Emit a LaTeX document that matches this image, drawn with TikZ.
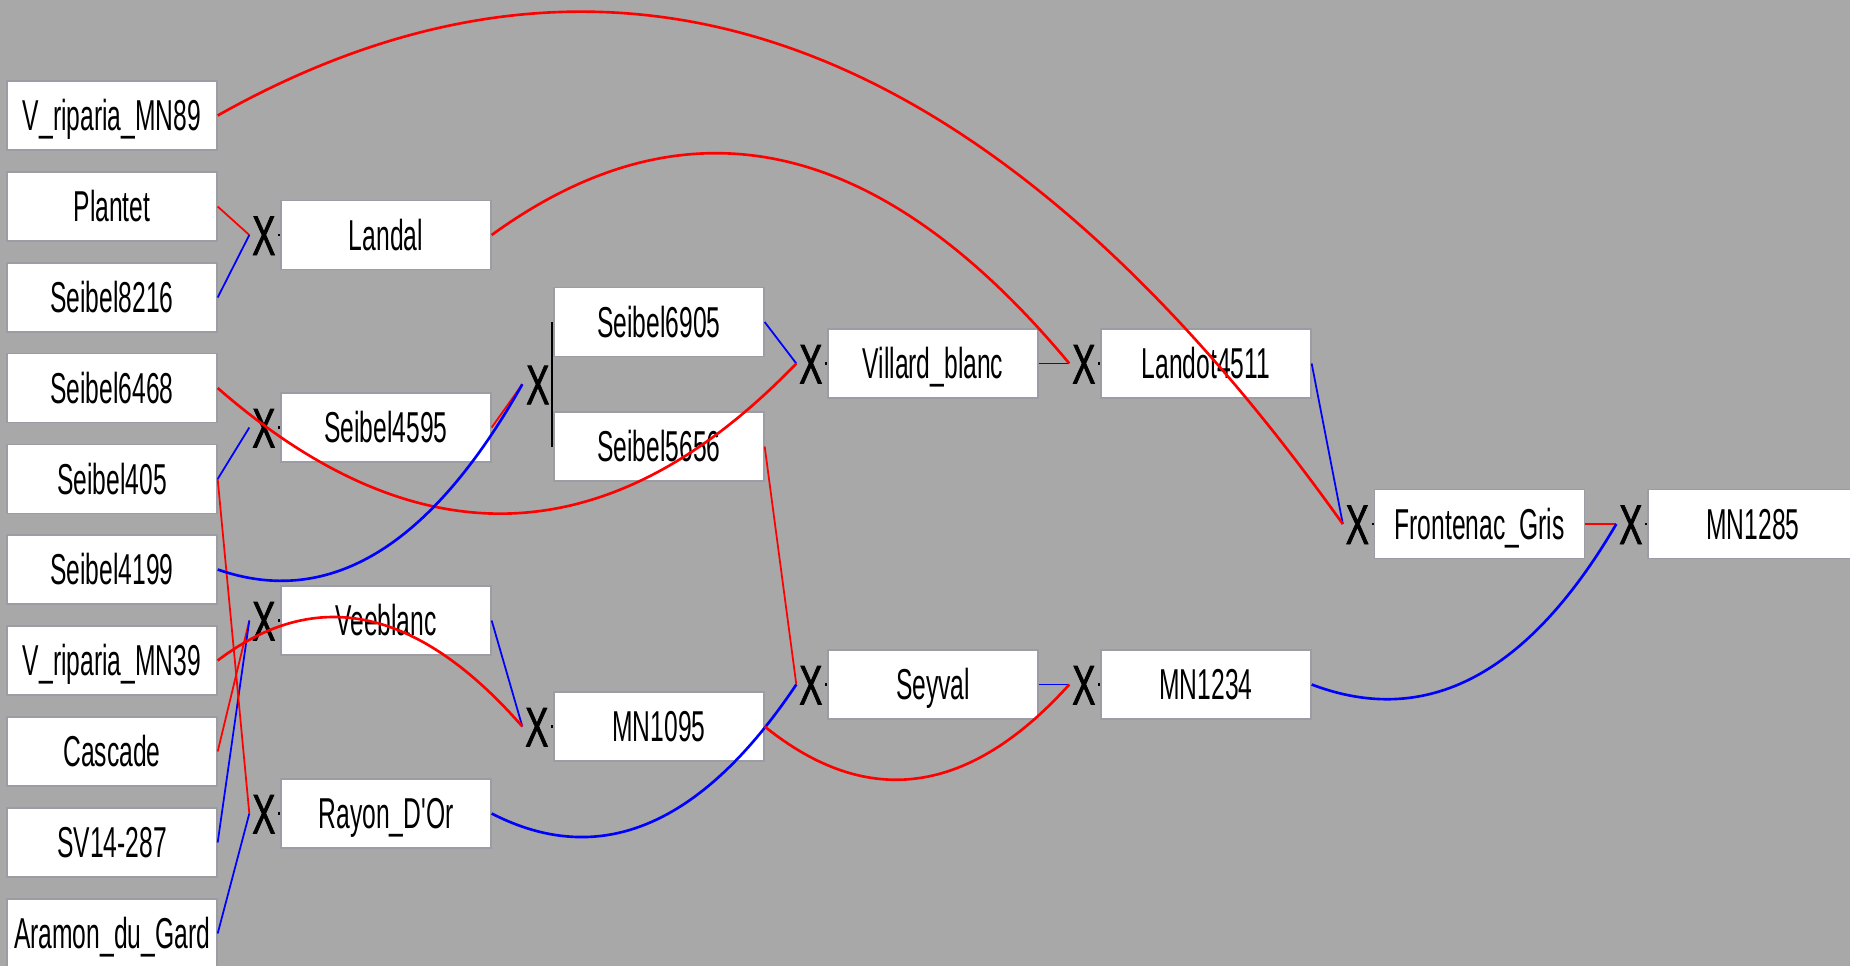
\documentclass[tikz,border=0pt]{standalone}
\usepackage{fontspec}
\newfontfamily\lblfont[FakeStretch=0.57,Ligatures=TeXOff]{Liberation Sans}
\newfontfamily\xfont[FakeStretch=0.62,FakeBold=1.2]{Liberation Sans}
\usetikzlibrary{calc}
\definecolor{bg}{RGB}{168,168,168}
\definecolor{edge}{RGB}{156,156,164}
\definecolor{pa}{RGB}{255,0,0}
\definecolor{ma}{RGB}{0,0,255}
\tikzset{
  plant/.style={draw=edge, line width=0.35pt, fill=white, minimum width=2.1cm,
    minimum height=0.69cm, inner sep=0pt,
    font=\lblfont\fontsize{12.3}{14}\selectfont, text height=8.8pt, text depth=0pt},
  crossmark/.style={inner sep=0pt, font=\xfont\fontsize{15.9}{18}\selectfont,
    text height=11.4pt, text depth=0pt},
  sire/.style={draw=pa, line width=0.5pt},
  dam/.style={draw=ma, line width=0.5pt},
  arcline/.style={line width=0.75pt},
  tick/.style={draw=black, line width=0.6pt},
  sibline/.style={draw=black, line width=0.55pt}
}
% quadratic connector: start, control point, end
\newcommand\qarc[4]{\draw[#1] (#2) .. controls ($(#2)!0.6667!(#3)$) and ($(#4)!0.6667!(#3)$) .. (#4);}
\begin{document}
\begin{tikzpicture}[x=0.01cm, y=-0.01cm]
\fill[bg] (0,0) rectangle (1850,966);
\useasboundingbox (0,0) rectangle (1850,966);
\clip (0,0) rectangle (1850,966);

% founders
\node[plant] (mn89)    at (112,115.5) {V\_riparia\_MN89};
\node[plant] (plantet) at (112,206.5) {Plantet};
\node[plant] (s8216)   at (112,297.5) {Seibel8216};
\node[plant] (s6468)   at (112,388)   {Seibel6468};
\node[plant] (s405)    at (112,479)   {Seibel405};
\node[plant] (s4199)   at (112,569.5) {Seibel4199};
\node[plant] (mn39)    at (112,660.5) {V\_riparia\_MN39};
\node[plant] (cascade) at (112,751.5) {Cascade};
\node[plant] (sv)      at (112,842.5) {SV14-287};
\node[plant] (aramon)  at (112,933.5) {Aramon\_du\_Gard};

% second generation
\node[plant] (landal)   at (386,235)   {Landal};
\node[plant] (s4595)    at (386,427.5) {Seibel4595};
\node[plant] (veeblanc) at (386,620.5) {Veeblanc};
\node[plant] (rayon)    at (386,813.5) {Rayon\_D'Or};

% third generation
\node[plant] (s6905)  at (659,322)   {Seibel6905};
\node[plant] (s5656)  at (659,446.5) {Seibel5656};
\node[plant] (mn1095) at (659,726.5) {MN1095};

\node[plant] (villard) at (933,363.5) {Villard\_blanc};
\node[plant] (seyval)  at (933,684.5) {Seyval};

\node[plant] (landot) at (1206,363.5) {Landot4511};
\node[plant] (mn1234) at (1206,684.5) {MN1234};

\node[plant] (frontenac) at (1479.5,524) {Frontenac\_Gris};
\node[plant] (mn1285)    at (1753,524)   {MN1285};

% cross marks and merge points
\foreach \c in {landal,s4595,veeblanc,rayon,villard,seyval,landot,mn1095,mn1234,frontenac,mn1285}{
  \node[crossmark] (x\c) at ($(\c.west)+(-16.5,0)$) {X};
  \draw[tick] ($(\c.west)+(-2,0)$) -- (\c.west);
  \coordinate (m\c) at ($(\c.west)+(-31,0)$);
}
% full sibs Seibel6905 / Seibel5656
\coordinate (sibmid) at ($(s6905.west)!0.5!(s5656.west)$);
\coordinate (msib) at ($(sibmid)+(-31,0)$);
\node[crossmark] (xsib) at ($(sibmid)+(-15.5,0)$) {X};
\draw[sibline] ($(s6905.west)+(-1,0)$) -- ($(s5656.west)+(-1,0)$);

% straight parent links
\draw[sire] (plantet.east) -- (mlandal);
\draw[dam]  (s8216.east) -- (mlandal);
\draw[dam]  (s405.east) -- (ms4595);
\draw[sire] (cascade.east) -- (mveeblanc);
\draw[dam]  (sv.east) -- (mveeblanc);
\draw[sire] (s405.east) -- (mrayon);
\draw[dam]  (aramon.east) -- (mrayon);
\draw[sire] (s4595.east) -- (msib);
\draw[dam]  (s6905.east) -- (mvillard);
\draw[dam]  (villard.east) -- (mlandot);
\draw[dam]  (veeblanc.east) -- (mmn1095);
\draw[sire] (s5656.east) -- (mseyval);
\draw[dam]  (seyval.east) -- (mmn1234);
\draw[dam]  (landot.east) -- (mfrontenac);
\draw[sire] (frontenac.east) -- (mmn1285);

% curved parent links
\qarc{sire,arcline}{mn89.east}{813,-219}{mfrontenac}
\qarc{sire,arcline}{landal.east}{785,22}{mlandot}
\qarc{sire,arcline}{s6468.east}{519,651}{mvillard}
\qarc{dam,arcline}{s4199.east}{385,628}{msib}
\qarc{sire,arcline}{mn39.east}{366,548}{mmn1095}
\qarc{dam,arcline}{rayon.east}{654,897}{mseyval}
\qarc{sire,arcline}{mn1095.east}{919,851}{mmn1234}
\qarc{dam,arcline}{mn1234.east}{1484,750}{mmn1285}
\end{tikzpicture}
\end{document}
